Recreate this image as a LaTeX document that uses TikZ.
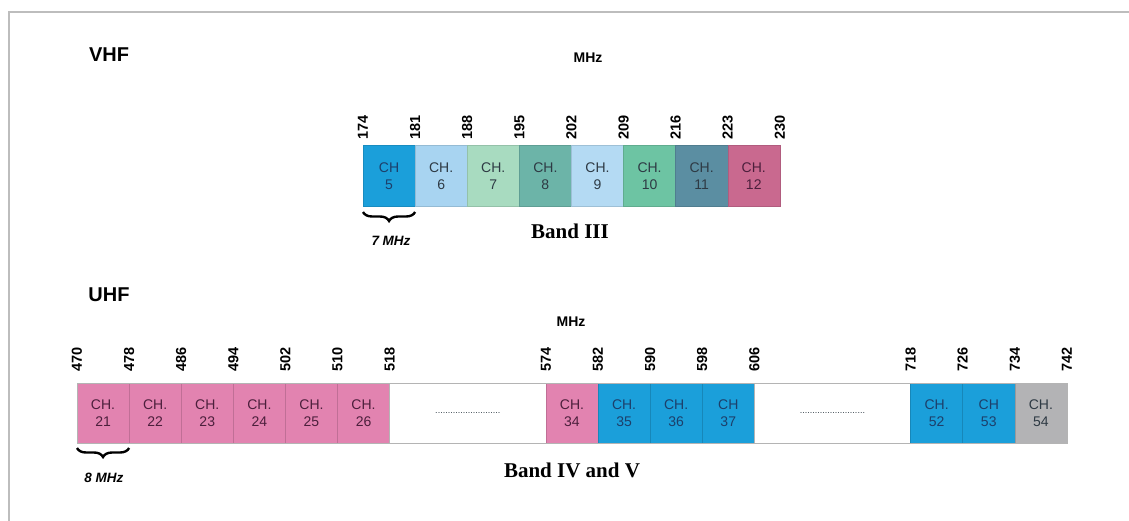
\documentclass[tikz,border=0pt]{standalone}
\usepackage{fontspec}
\setmainfont{Liberation Serif}
\setsansfont{Liberation Sans}
\usepackage{xcolor}
\usepackage{tikz}
\usetikzlibrary{positioning,decorations.pathreplacing}
\definecolor{frame}{HTML}{BDBDBD}
\definecolor{strip}{HTML}{B4B4B4}
\definecolor{chblue}{HTML}{1B9FDA}
\definecolor{sky}{HTML}{A8D4F1}
\definecolor{mint}{HTML}{A8DBC0}
\definecolor{teal}{HTML}{6CB4A8}
\definecolor{pale}{HTML}{B4DAF3}
\definecolor{jade}{HTML}{6DC4A3}
\definecolor{slate}{HTML}{5B8EA2}
\definecolor{mauve}{HTML}{C9698F}
\definecolor{pink}{HTML}{E283B0}
\definecolor{silver}{HTML}{B3B3B5}
\definecolor{navytext}{HTML}{1D3F6A}
\definecolor{plumtext}{HTML}{4C1F3C}
\definecolor{darktext}{HTML}{2E3A44}
\tikzset{
  font=\sffamily,
  chan/.style={
    rectangle, minimum width=52.1pt, minimum height=61pt, inner sep=0pt, outer sep=0pt,
    align=center, text=darktext, font=\sffamily\fontsize{14}{17}\selectfont
  },
  vchan/.style={chan, draw=#1!88!black, line width=0.4pt, fill=#1},
  uchan/.style={chan, minimum height=60pt, draw=#1!85!black, line width=0.5pt, fill=#1},
  gapbox/.style={chan, minimum width=156.3pt, minimum height=60pt, fill=white, draw=strip, line width=0.6pt},
  freq/.style={rotate=90, anchor=west, inner sep=0pt, font=\sffamily\bfseries\fontsize{14.5}{15}\selectfont},
  bandtitle/.style={font=\sffamily\bfseries\fontsize{20}{22}\selectfont},
  unit/.style={font=\sffamily\bfseries\fontsize{14}{16}\selectfont},
  bandname/.style={font=\rmfamily\bfseries\fontsize{21}{24}\selectfont},
  spacing/.style={font=\sffamily\bfseries\itshape\fontsize{13.5}{15}\selectfont},
  widthbrace/.style={decorate, decoration={brace, mirror, amplitude=9pt}, line width=2.4pt},
  elide/.style={font=\sffamily\fontsize{9}{10}\selectfont, text=darktext},
  frameline/.style={draw=frame, line width=2pt}
}

\begin{document}
\begin{tikzpicture}[x=1pt,y=-1pt]
  \useasboundingbox (0,0) rectangle (1129,521);
  \draw[frameline] (8.5,521) -- (8.5,12.5) -- (1129,12.5);

  % VHF band III
  \node[bandtitle] (vhf) at (109,55) {VHF};
  \node[unit] (vhfunit) at (588,58) {MHz};
  \node[vchan=chblue, text=navytext, anchor=north west] (ch5) at (363,145.5) {CH\\5};
  \node[vchan=sky, right=0pt of ch5] (ch6) {CH.\\6};
  \node[vchan=mint, right=0pt of ch6] (ch7) {CH.\\7};
  \node[vchan=teal, right=0pt of ch7] (ch8) {CH.\\8};
  \node[vchan=pale, right=0pt of ch8] (ch9) {CH.\\9};
  \node[vchan=jade, right=0pt of ch9] (ch10) {CH.\\10};
  \node[vchan=slate, right=0pt of ch10] (ch11) {CH.\\11};
  \node[vchan=mauve, text=plumtext, right=0pt of ch11] (ch12) {CH.\\12};
  \foreach \f/\c in {174/ch5.north west, 181/ch6.north west, 188/ch7.north west,
      195/ch8.north west, 202/ch9.north west, 209/ch10.north west,
      216/ch11.north west, 223/ch12.north west, 230/ch12.north east}
    \node[freq] (f\f) at ([yshift=6pt]\c) {\f};
  \draw[widthbrace] ([yshift=-5.5pt]ch5.south west) -- ([yshift=-5.5pt]ch5.south east);
  \node[spacing] (vstep) at (391,241) {7 MHz};
  \node[bandname] (band3) at (570,231) {Band III};

  % UHF bands IV and V
  \node[bandtitle] (uhf) at (109,294.5) {UHF};
  \node[unit] (uhfunit) at (571,322) {MHz};
  \node[uchan=pink, text=plumtext, anchor=north west] (ch21) at (77,383) {CH.\\21};
  \node[uchan=pink, text=plumtext, right=0pt of ch21] (ch22) {CH.\\22};
  \node[uchan=pink, text=plumtext, right=0pt of ch22] (ch23) {CH.\\23};
  \node[uchan=pink, text=plumtext, right=0pt of ch23] (ch24) {CH.\\24};
  \node[uchan=pink, text=plumtext, right=0pt of ch24] (ch25) {CH.\\25};
  \node[uchan=pink, text=plumtext, right=0pt of ch25] (ch26) {CH.\\26};
  \node[gapbox, right=0pt of ch26] (gapa) {};
  \node[uchan=pink, text=plumtext, right=0pt of gapa] (ch34) {CH.\\34};
  \node[uchan=chblue, text=navytext, right=0pt of ch34] (ch35) {CH.\\35};
  \node[uchan=chblue, text=navytext, right=0pt of ch35] (ch36) {CH.\\36};
  \node[uchan=chblue, text=navytext, right=0pt of ch36] (ch37) {CH\\37};
  \node[gapbox, right=0pt of ch37] (gapb) {};
  \node[uchan=chblue, text=navytext, right=0pt of gapb] (ch52) {CH.\\52};
  \node[uchan=chblue, text=navytext, right=0pt of ch52] (ch53) {CH\\53};
  \node[uchan=silver, text=darktext, right=0pt of ch53] (ch54) {CH.\\54};
  \node[elide] (dotsa) at (gapa) {..........................};
  \node[elide] (dotsb) at (gapb) {..........................};
  \draw[draw=strip, line width=0.6pt] (ch21.north west) rectangle (ch54.south east);
  \foreach \f/\c in {470/ch21.north west, 478/ch22.north west, 486/ch23.north west,
      494/ch24.north west, 502/ch25.north west, 510/ch26.north west,
      518/ch26.north east, 574/ch34.north west, 582/ch35.north west,
      590/ch36.north west, 598/ch37.north west, 606/ch37.north east,
      718/ch52.north west, 726/ch53.north west, 734/ch54.north west, 742/ch54.north east}
    \node[freq] (f\f) at ([yshift=11pt]\c) {\f};
  \draw[widthbrace] ([yshift=-5pt]ch21.south west) -- ([yshift=-5pt]ch21.south east);
  \node[spacing] (ustep) at (104,478) {8 MHz};
  \node[bandname] (band45) at (572,470) {Band IV and V};
\end{tikzpicture}
\end{document}
